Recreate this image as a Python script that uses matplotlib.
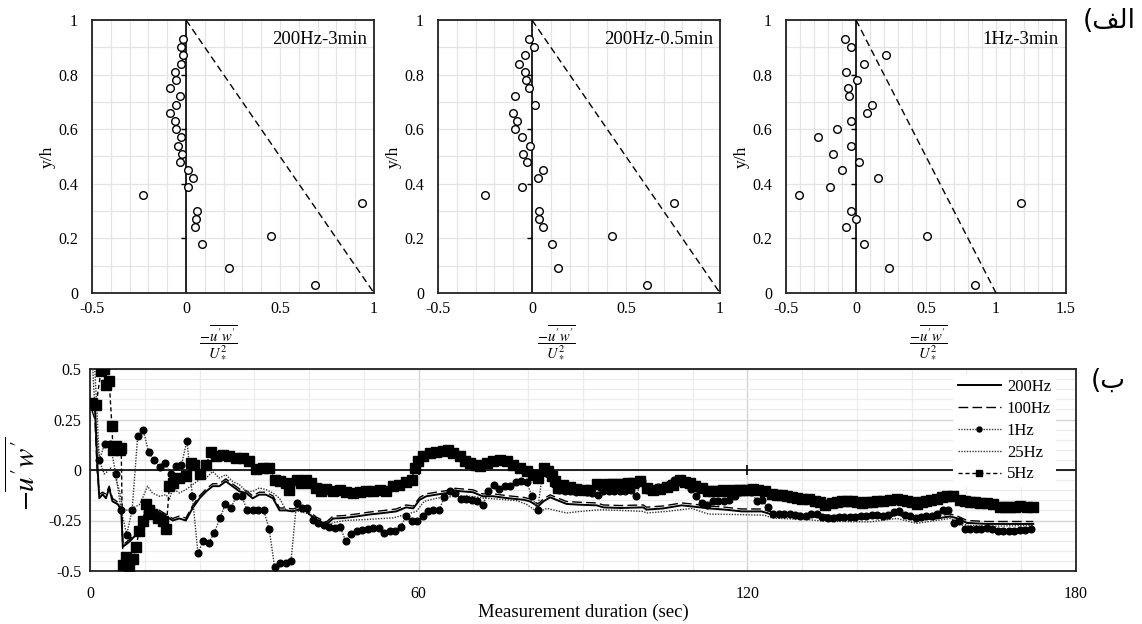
import numpy as np
import matplotlib
matplotlib.use('Agg')
import matplotlib.pyplot as plt
from matplotlib.ticker import MultipleLocator

plt.rcParams['font.family'] = ['Liberation Serif', 'DejaVu Serif']
plt.rcParams['mathtext.fontset'] = 'stix'

# ---------------- data: profiles (top panels) ----------------
y_levels = [0.03, 0.09, 0.18, 0.21, 0.24, 0.27, 0.30, 0.33, 0.36, 0.39, 0.42, 0.45, 0.48, 0.51,
            0.54, 0.57, 0.60, 0.63, 0.66, 0.69, 0.72, 0.75, 0.78, 0.81, 0.84, 0.87, 0.90, 0.93]
x_200hz_3min = [0.686, 0.23, 0.087, 0.453, 0.05, 0.053, 0.06, 0.938, -0.23, 0.012, 0.035, 0.012,
                -0.032, -0.019, -0.041, -0.027, -0.053, -0.06, -0.085, -0.053, -0.032, -0.085,
                -0.053, -0.06, -0.027, -0.014, -0.027, -0.014]
x_200hz_05min = [0.612, 0.139, 0.104, 0.423, 0.056, 0.039, 0.039, 0.754, -0.252, -0.052, 0.031, 0.06,
                 -0.029, -0.048, -0.008, -0.054, -0.089, -0.078, -0.103, 0.017, -0.093, -0.018,
                 -0.032, -0.036, -0.068, -0.036, 0.008, -0.018]
x_1hz_3min = [0.849, 0.236, 0.059, 0.509, -0.075, 0.0, -0.038, 1.179, -0.406, -0.189, 0.156, -0.101,
              0.024, -0.167, -0.038, -0.274, -0.134, -0.035, 0.08, 0.113, -0.052, -0.054, 0.009,
              -0.073, 0.059, 0.215, -0.038, -0.08]
theory_x = [0, 1]
theory_y = [1, 0]
panel_titles = ['200Hz-3min', '200Hz-0.5min', '1Hz-3min']
panel_xmax = [1.0, 1.0, 1.5]
top_xticks = [[-0.5, 0, 0.5, 1], [-0.5, 0, 0.5, 1], [-0.5, 0, 0.5, 1, 1.5]]
top_xticklabels = [['-0.5', '0', '0.5', '1'], ['-0.5', '0', '0.5', '1'], ['-0.5', '0', '0.5', '1', '1.5']]
top_yticks = [0, 0.2, 0.4, 0.6, 0.8, 1]
top_yticklabels = ['0', '0.2', '0.4', '0.6', '0.8', '1']

# ---------------- data: time series (bottom panel) ----------------
t_hi = [0.3, 0.9, 1.3, 1.7, 2.3, 2.9, 3.5, 4.1, 5.1, 5.7, 6.0, 7.2, 8.4, 9.6, 10.2, 11.4, 12.7, 13.9,
        15.1, 16.3, 17.5, 18.7, 20.0, 21.2, 22.4, 23.6, 24.8, 26.0, 27.3, 28.5, 29.7, 30.9, 32.1, 33.4,
        34.6, 35.8, 37.0, 38.9, 40.1, 41.3, 43.1, 44.4, 46.2, 48.6, 51.1, 53.5, 55.9, 57.7, 59.0, 60.2,
        61.4, 63.2, 65.1, 66.3, 68.1, 69.9, 71.7, 73.6, 76.1, 77.9, 79.1, 80.3, 81.8, 82.8, 84.0, 85.8,
        87.0, 89.5, 92.5, 93.7, 96.8, 101.0, 101.6, 104.7, 108.0, 109.8, 112.9, 115.9, 119.0, 122.6,
        124.5, 128.1, 131.1, 134.2, 137.2, 140.3, 143.3, 146.1, 147.3, 150.9, 154.6, 157.0, 158.2,
        160.1, 163.7, 168.0, 172.2]
v_200hz = [0.33, 0.32, 0.05, -0.14, -0.12, -0.14, -0.09, -0.155, -0.17, -0.2, -0.38, -0.355, -0.32,
           -0.255, -0.205, -0.19, -0.21, -0.23, -0.25, -0.24, -0.25, -0.19, -0.14, -0.106, -0.08, -0.08,
           -0.056, -0.08, -0.106, -0.114, -0.14, -0.122, -0.122, -0.14, -0.2, -0.2, -0.205, -0.19, -0.22,
           -0.245, -0.27, -0.24, -0.238, -0.23, -0.22, -0.213, -0.205, -0.185, -0.19, -0.147, -0.13,
           -0.122, -0.114, -0.102, -0.106, -0.11, -0.13, -0.13, -0.139, -0.144, -0.147, -0.155, -0.18,
           -0.155, -0.135, -0.155, -0.168, -0.172, -0.175, -0.185, -0.188, -0.185, -0.196, -0.19, -0.175,
           -0.18, -0.19, -0.196, -0.205, -0.205, -0.22, -0.224, -0.23, -0.234, -0.238, -0.234, -0.23,
           -0.23, -0.22, -0.246, -0.24, -0.23, -0.238, -0.262, -0.267, -0.267, -0.267]
v_100hz = [0.30, 0.25, 0.0, -0.12, -0.11, -0.12, -0.08, -0.14, -0.16, -0.19, -0.37, -0.345, -0.31,
           -0.245, -0.195, -0.18, -0.2, -0.22, -0.24, -0.228, -0.238, -0.178, -0.128, -0.094, -0.068,
           -0.068, -0.044, -0.068, -0.094, -0.102, -0.128, -0.11, -0.11, -0.128, -0.188, -0.188, -0.193,
           -0.178, -0.208, -0.233, -0.258, -0.228, -0.226, -0.218, -0.208, -0.201, -0.193, -0.173,
           -0.178, -0.135, -0.118, -0.11, -0.102, -0.09, -0.094, -0.098, -0.118, -0.118, -0.127,
           -0.132, -0.135, -0.143, -0.168, -0.143, -0.123, -0.143, -0.156, -0.16, -0.163, -0.173,
           -0.176, -0.173, -0.184, -0.178, -0.163, -0.168, -0.178, -0.184, -0.193, -0.193, -0.208,
           -0.212, -0.218, -0.222, -0.226, -0.222, -0.218, -0.218, -0.208, -0.234, -0.228, -0.218,
           -0.226, -0.25, -0.255, -0.255, -0.255]
t_25hz = [0.5, 1.0, 1.5, 2.0, 2.6, 3.2, 3.8, 4.7, 5.4, 6.0, 6.6, 7.8, 9.0, 9.6, 10.5, 11.4, 12.7, 13.9,
          14.5, 15.1, 16.3, 17.5, 18.7, 20.0, 21.2, 22.4, 23.6, 24.8, 26.0, 27.3, 28.5, 29.7, 30.9,
          32.1, 33.4, 34.6, 35.8, 37.5, 39.7, 41.3, 43.1, 44.4, 46.5, 50.4, 55.3, 57.7, 59.6, 61.0,
          63.2, 65.6, 68.1, 70.5, 71.7, 74.8, 77.9, 79.7, 81.8, 83.4, 87.0, 89.5, 93.1, 96.8, 101.0,
          101.6, 105.3, 107.7, 109.8, 112.9, 119.0, 123.2, 124.5, 131.1, 134.2, 142.4, 147.3, 150.9,
          157.0, 160.1, 163.7, 172.2]
v_25hz = [0.5, 0.25, 0.1, 0.026, -0.02, -0.007, 0.01, -0.04, -0.106, -0.188, -0.2, -0.188, -0.172,
          -0.139, -0.08, -0.114, -0.13, -0.122, -0.147, -0.089, -0.114, -0.097, -0.073, -0.048, -0.04,
          -0.007, -0.04, -0.023, -0.056, -0.073, -0.106, -0.106, -0.089, -0.097, -0.114, -0.14, -0.2,
          -0.2, -0.215, -0.245, -0.28, -0.26, -0.25, -0.245, -0.237, -0.22, -0.205, -0.155, -0.14,
          -0.133, -0.128, -0.133, -0.139, -0.145, -0.152, -0.17, -0.21, -0.19, -0.213, -0.205, -0.197,
          -0.2, -0.205, -0.213, -0.205, -0.197, -0.19, -0.218, -0.221, -0.224, -0.238, -0.246, -0.254,
          -0.257, -0.24, -0.264, -0.24, -0.274, -0.279, -0.274]
t_1hz = np.arange(0.7, 172.0, 1.0)
v_1hz = [0.6, 0.05, 0.13, 0.13, -0.02, -0.2, -0.32, -0.196, 0.167, 0.2,
         0.089, 0.048, 0.015, 0.035, -0.02, 0.018, 0.026, 0.145, -0.13, -0.41,
         -0.35, -0.36, -0.31, -0.24, -0.17, -0.19, -0.13, -0.13, -0.2, -0.2,
         -0.2, -0.2, -0.29, -0.48, -0.46, -0.46, -0.45, -0.163, -0.19, -0.19,
         -0.246, -0.262, -0.27, -0.28, -0.287, -0.284, -0.353, -0.317, -0.3, -0.295,
         -0.29, -0.287, -0.287, -0.312, -0.3, -0.304, -0.28, -0.23, -0.254, -0.25,
         -0.23, -0.205, -0.2, -0.2, -0.135, -0.106, -0.114, -0.142, -0.142, -0.147,
         -0.152, -0.175, -0.102, -0.076, -0.092, -0.081, -0.081, -0.06, -0.056, -0.06,
         -0.13, -0.2, 0.0, -0.02, -0.07, -0.097, -0.102, -0.106, -0.11, -0.106,
         -0.11, -0.115, -0.122, -0.102, -0.102, -0.102, -0.102, -0.106, -0.1, -0.13,
         -0.053, -0.097, -0.092, -0.086, -0.08, -0.069, -0.05, -0.059, -0.066, -0.092,
         -0.13, -0.163, -0.172, -0.152, -0.152, -0.152, -0.147, -0.13, -0.11, -0.105,
         -0.11, -0.152, -0.147, -0.185, -0.218, -0.218, -0.218, -0.218, -0.225, -0.23,
         -0.23, -0.22, -0.218, -0.235, -0.24, -0.236, -0.234, -0.234, -0.234, -0.232,
         -0.23, -0.226, -0.224, -0.224, -0.23, -0.222, -0.21, -0.205, -0.224, -0.23,
         -0.238, -0.234, -0.23, -0.226, -0.22, -0.196, -0.2, -0.262, -0.254, -0.29,
         -0.29, -0.29, -0.29, -0.287, -0.29, -0.304, -0.304, -0.3, -0.3, -0.295,
         -0.295, -0.29]
t_5hz = [0.4, 1.1, 2.0, 2.6, 3.0, 3.5, 4.0, 4.2, 4.8, 5.4, 5.7, 6.0, 6.5, 7.2, 7.8, 8.4, 9.0, 9.6,
         10.2, 10.8, 11.4, 12.4, 13.3, 13.9, 14.5, 15.1, 16.3, 17.5, 18.4, 19.0, 20.0, 21.2, 22.1,
         23.0, 24.2, 25.4, 26.7, 27.9, 29.1, 30.3, 31.5, 32.7, 33.7, 34.6, 35.8, 36.4, 37.7, 38.6,
         39.5, 40.4, 41.3, 42.2, 43.1, 44.4, 45.6, 46.8, 48.0, 49.2, 50.4, 51.7, 52.9, 54.1, 55.3,
         56.5, 57.7, 58.7, 59.3, 59.9, 60.8, 62.0, 63.2, 64.4, 65.4, 66.3, 67.5, 68.4, 69.3, 70.5,
         71.2, 72.4, 73.6, 74.8, 76.1, 77.3, 78.5, 79.7, 80.9, 81.8, 82.8, 83.7, 84.3, 84.9, 85.5,
         86.4, 87.6, 88.8, 90.1, 91.3, 92.5, 93.7, 94.6, 95.5, 96.5, 97.4, 98.3, 99.2, 100.4, 101.6,
         102.8, 104.1, 105.3, 106.5, 107.7, 108.6, 109.5, 110.5, 111.7, 112.9, 113.8, 114.7, 115.6,
         116.5, 117.4, 118.4, 119.3, 120.2, 121.1, 122.0, 123.2, 124.5, 125.4, 126.3, 127.2, 128.1,
         129.0, 129.9, 131.2, 132.4, 133.3, 134.2, 135.4, 136.3, 137.2, 138.2, 139.1, 140.0, 140.9,
         141.8, 142.7, 143.6, 144.8, 146.0, 147.3, 148.2, 149.1, 150.0, 150.9, 151.8, 152.7, 153.6,
         154.6, 155.5, 156.4, 157.6, 158.8, 159.7, 160.7, 161.6, 162.5, 163.7, 164.9, 166.1, 167.0,
         168.0, 168.9, 169.8, 171.0, 172.2]
v_5hz = [0.33, 0.32, 0.49, 0.50, 0.42, 0.44, 0.22, 0.10, 0.12, 0.10, 0.11, -0.47, -0.43, -0.485,
         -0.44, -0.38, -0.30, -0.25, -0.17, -0.20, -0.22, -0.24, -0.25, -0.29, -0.08, -0.064, -0.04,
         -0.03, 0.035, 0.026, -0.02, 0.026, 0.09, 0.07, 0.075, 0.068, 0.06, 0.06, 0.043, 0.007, 0.01,
         0.01, -0.048, -0.056, -0.064, -0.097, -0.048, -0.064, -0.048, -0.064, -0.089, -0.102, -0.092,
         -0.106, -0.097, -0.109, -0.114, -0.11, -0.106, -0.102, -0.097, -0.102, -0.081, -0.073,
         -0.059, -0.048, 0.01, 0.043, 0.068, 0.084, 0.089, 0.096, 0.10, 0.084, 0.068, 0.043, 0.035,
         0.026, 0.018, 0.035, 0.043, 0.051, 0.043, 0.026, 0.01, -0.007, -0.023, -0.04, 0.01, -0.007,
         -0.03, -0.056, -0.089, -0.076, -0.086, -0.092, -0.097, -0.097, -0.069, -0.073, -0.07,
         -0.069, -0.07, -0.069, -0.066, -0.064, -0.056, -0.089, -0.097, -0.092, -0.086, -0.073,
         -0.048, -0.059, -0.064, -0.081, -0.089, -0.102, -0.102, -0.102, -0.1, -0.102, -0.1, -0.097,
         -0.097, -0.097, -0.095, -0.097, -0.106, -0.119, -0.122, -0.125, -0.13, -0.135, -0.138,
         -0.142, -0.146, -0.152, -0.16, -0.172, -0.163, -0.158, -0.152, -0.152, -0.152, -0.158,
         -0.163, -0.16, -0.158, -0.155, -0.152, -0.147, -0.142, -0.147, -0.152, -0.16, -0.168, -0.16,
         -0.155, -0.148, -0.142, -0.135, -0.127, -0.13, -0.147, -0.152, -0.158, -0.16, -0.163,
         -0.165, -0.168, -0.185, -0.185, -0.185, -0.182, -0.18, -0.183, -0.185]
bottom_xticks = [0, 60, 120, 180]
bottom_yticks = [-0.5, -0.25, 0, 0.25, 0.5]
bottom_yticklabels = ['-0.5', '-0.25', '0', '0.25', '0.5']
zero_line_ticks = [60, 120]
series_labels = ['200Hz', '100Hz', '1Hz', '25Hz', '5Hz']

# ---------------- figure ----------------
W, H = 1142, 624
fig = plt.figure(figsize=(W / 100, H / 100), dpi=100)


def px_axes(x0, y0, x1, y1):
    return fig.add_axes([x0 / W, 1 - y1 / H, (x1 - x0) / W, (y1 - y0) / H])


frac_label = r'$\dfrac{-\overline{u^{\prime}w^{\prime}}}{U_*^{2}}$'

top_boxes = [(92, 20, 374, 293), (438, 20, 720, 293), (786, 20, 1066, 293)]
top_data = [x_200hz_3min, x_200hz_05min, x_1hz_3min]
frac_x = [218, 556, 928]

for i, box in enumerate(top_boxes):
    ax = px_axes(*box)
    ax.set_xlim(-0.5, panel_xmax[i])
    ax.set_ylim(0, 1)
    ax.set_xticks(top_xticks[i])
    ax.set_xticklabels(top_xticklabels[i])
    ax.set_yticks(top_yticks)
    ax.set_yticklabels(top_yticklabels)
    ax.xaxis.set_minor_locator(MultipleLocator(0.1))
    ax.yaxis.set_minor_locator(MultipleLocator(0.1))
    ax.grid(which='both', color='#e4e4e4', lw=0.9)
    ax.set_axisbelow(True)
    ax.tick_params(which='both', length=0)
    ax.tick_params(axis='x', pad=6, labelsize=11.5)
    ax.tick_params(axis='y', pad=10, labelsize=11.5)
    for s in ax.spines.values():
        s.set_linewidth(1.3)
        s.set_color('#222222')
    ax.axvline(0, color='black', lw=1.2, zorder=2)
    ax.plot([0] * 4, top_yticks[1:5], ls='none', marker=0, ms=3.5, mew=1.0, color='black', zorder=2)
    ax.plot(theory_x, theory_y, color='black', lw=1.0, dashes=(5, 3), zorder=3)
    ax.plot(top_data[i], y_levels, ls='none', marker='o', mfc='white', mec='black', ms=5.5, mew=1.0,
            zorder=4, clip_on=False)
    ax.text(0.975, 0.96, panel_titles[i], transform=ax.transAxes, ha='right', va='top', fontsize=13.5)
    ax.set_ylabel('y/h', fontsize=12.5)
    ax.yaxis.set_label_coords(-36 / (box[2] - box[0]), 0.5)
    fig.text(frac_x[i] / W, 1 - 342 / H, frac_label, ha='center', va='center', fontsize=10.5)

# bottom panel
axb = px_axes(90, 369, 1076, 571)
axb.set_xlim(0, 180)
axb.set_ylim(-0.5, 0.5)
axb.set_xticks(bottom_xticks)
axb.set_xticklabels([str(v) for v in bottom_xticks])
axb.set_yticks(bottom_yticks)
axb.set_yticklabels(bottom_yticklabels)
axb.xaxis.set_minor_locator(MultipleLocator(10))
axb.yaxis.set_minor_locator(MultipleLocator(0.05))
axb.grid(which='minor', color='#ececec', lw=0.9)
axb.grid(which='major', color='#d4d4d4', lw=1.0)
axb.set_axisbelow(True)
axb.tick_params(which='both', length=0)
axb.tick_params(axis='x', pad=11, labelsize=11.5)
axb.tick_params(axis='y', pad=6, labelsize=11.5)
for s in axb.spines.values():
    s.set_linewidth(1.3)
    s.set_color('#222222')
axb.axhline(0, color='black', lw=1.2, zorder=2)
axb.plot(zero_line_ticks, [0] * len(zero_line_ticks), ls='none', marker='|', ms=7, mew=1.2,
         color='black', zorder=2)

h200, = axb.plot(t_hi, v_200hz, color='black', lw=1.4, zorder=5)
h100, = axb.plot(t_hi, v_100hz, color='black', lw=1.0, dashes=(7, 3), zorder=4)
h25, = axb.plot(t_25hz, v_25hz, color='#333333', lw=1.0, ls=(0, (1, 1)), zorder=4)
h1, = axb.plot(t_1hz, v_1hz, color='#333333', lw=1.0, ls=(0, (1, 1)), marker='o', ms=4.8,
               mfc='black', mec='black', zorder=6)
h5, = axb.plot(t_5hz, v_5hz, color='black', lw=1.0, dashes=(3, 2), marker='s', ms=6.5,
               mfc='black', mec='black', zorder=7)

leg = axb.legend([h200, h100, h1, h25, h5], series_labels, loc='upper left',
                 bbox_to_anchor=(0.875, 0.975), fontsize=12, frameon=True, fancybox=False,
                 edgecolor='none', facecolor='white', framealpha=1.0, handlelength=2.6,
                 handletextpad=0.35, labelspacing=0.35, borderpad=0.3, borderaxespad=0.0,
                 numpoints=1, markerscale=0.75)
leg.set_zorder(10)

axb.set_xlabel('Measurement duration (sec)', fontsize=13.5, labelpad=1)
fig.text(24 / W, 1 - 474 / H, r'$-\overline{u^{\prime}w^{\prime}}$', rotation=90,
         ha='center', va='center', fontsize=21)

# Arabic panel letters (presentation forms in visual order)
fig.text(1109 / W, 1 - 21 / H, '(' + '\ufed2\ufedf\ufe8d', ha='center', va='center',
         fontsize=19, family=['DejaVu Sans'])
fig.text(1108 / W, 1 - 381 / H, '(' + '\ufe8f', ha='center', va='center',
         fontsize=19, family=['DejaVu Sans'])

fig.savefig('out.png', dpi=100)
